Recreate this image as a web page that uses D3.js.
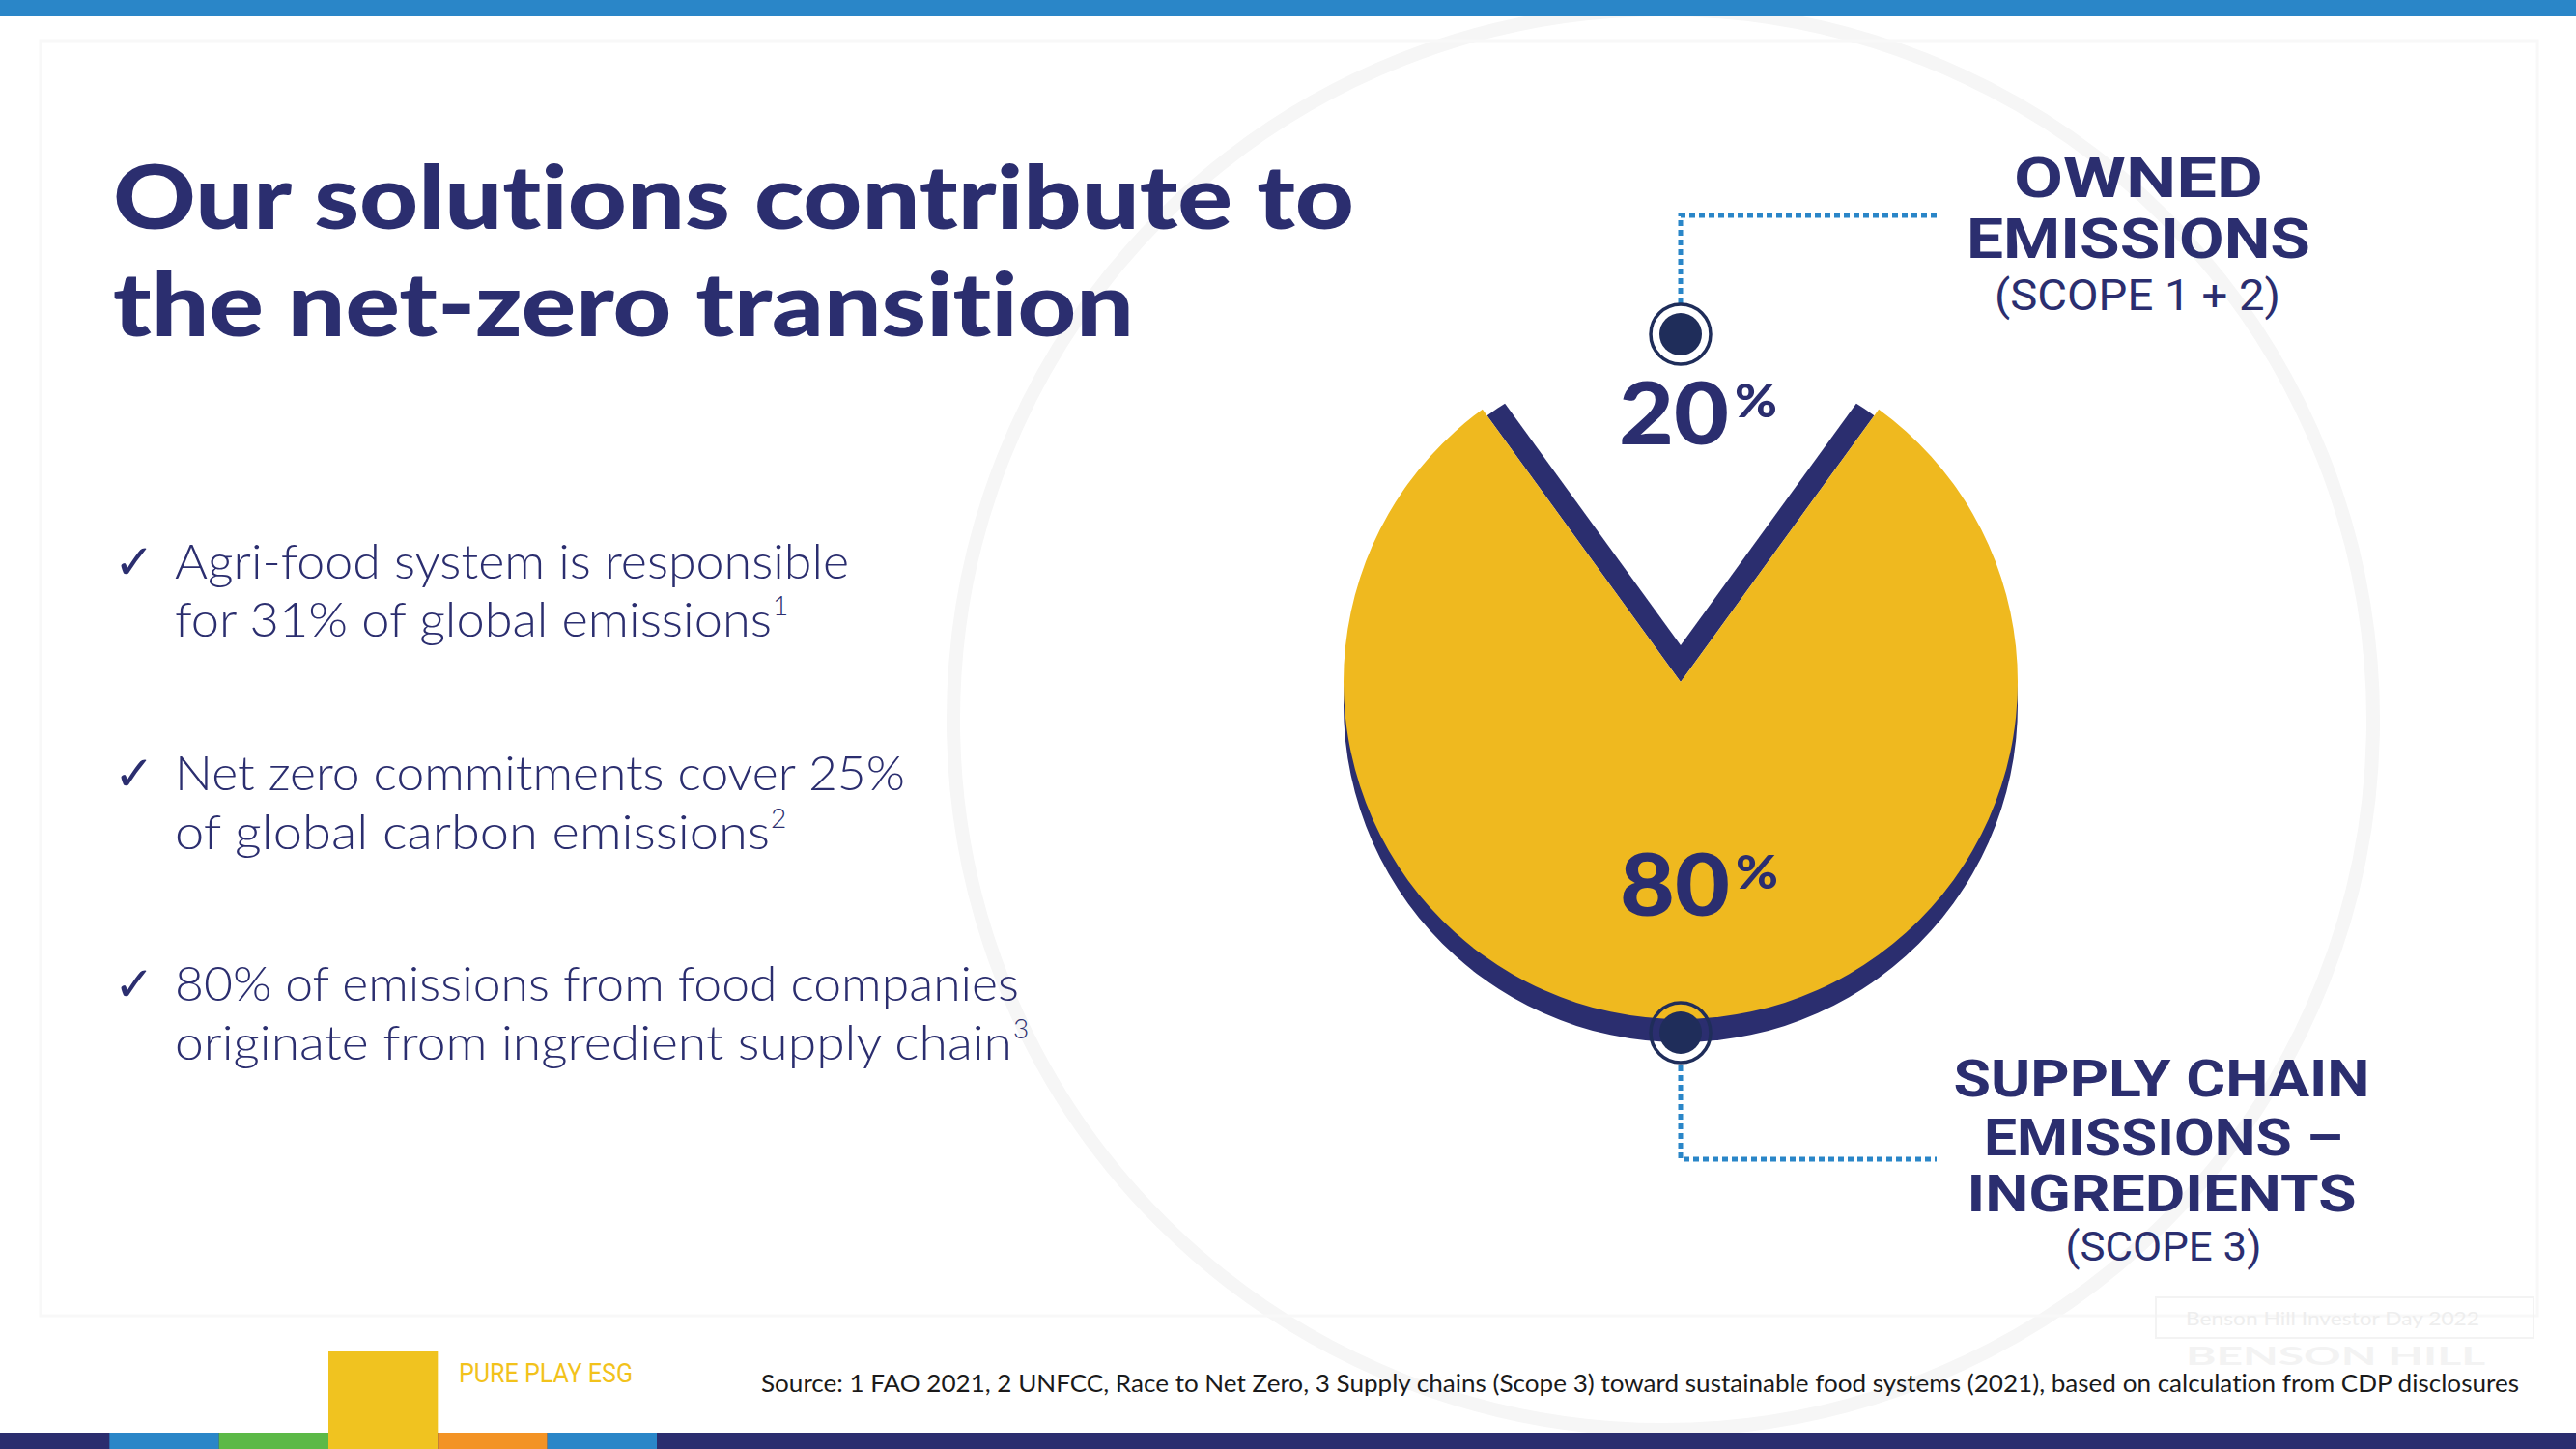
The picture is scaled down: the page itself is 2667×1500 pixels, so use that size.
<!DOCTYPE html>
<html>
<head>
<meta charset="utf-8">
<script src="https://cdn.jsdelivr.net/npm/d3@7"></script>
<style>
  html, body { margin: 0; padding: 0; background: #ffffff; }
  svg { display: block; }
  text { font-variant-ligatures: none; }
</style>
</head>
<body>
<div id="chart"></div>
<script>
// ---------------- DATA ----------------
const segmentNames = ["Owned emissions (Scope 1 + 2)", "Supply chain emissions – ingredients (Scope 3)"];
const segmentShares = [20, 80];
const segmentLabels = ["20", "80"];

const titleLines = ["Our solutions contribute to", "the net-zero transition"];

const bulletLines = [
  ["Agri-food system is responsible", "for 31% of global emissions", "1"],
  ["Net zero commitments cover 25%", "of global carbon emissions", "2"],
  ["80% of emissions from food companies", "originate from ingredient supply chain", "3"]
];

const ownedLabelLines = ["OWNED", "EMISSIONS"];
const ownedSubLabel = "(SCOPE 1 + 2)";
const supplyLabelLines = ["SUPPLY CHAIN", "EMISSIONS –", "INGREDIENTS"];
const supplySubLabel = "(SCOPE 3)";

const sourceText = "Source: 1 FAO 2021, 2 UNFCC, Race to Net Zero, 3 Supply chains (Scope 3) toward sustainable food systems (2021), based on calculation from CDP disclosures";
const tagText = "PURE PLAY ESG";
const watermarkLines = ["Benson Hill Investor Day 2022", "BENSON HILL"];

const footerColors = ["#2b2d6e", "#2a86c8", "#5cb947", "#f0c320", "#f39325", "#2a86c8"];

// ---------------- STYLE ----------------
const W = 2667, H = 1500;
const NAVY = "#2b2e6f";
const DARKDOT = "#1f2d5a";
const YELLOW = "#efb91f";
const BLUE = "#2a86c8";
const SANS = "Lato, 'Open Sans', 'Noto Sans', sans-serif";
const NARROW = "'Liberation Sans Narrow', 'Roboto', 'Lato', sans-serif";

const svg = d3.select("#chart").append("svg")
  .attr("width", W).attr("height", H)
  .attr("viewBox", `0 0 ${W} ${H}`);

svg.append("rect").attr("width", W).attr("height", H).attr("fill", "#ffffff");

// faint decorative background
const deco = svg.append("g").attr("fill", "none");
deco.append("circle").attr("cx", 1722).attr("cy", 745).attr("r", 735)
  .attr("stroke", "#f6f6f6").attr("stroke-width", 14);
deco.append("rect").attr("x", 42).attr("y", 42).attr("width", 2585).attr("height", 1320)
  .attr("stroke", "#f8f8f8").attr("stroke-width", 3);

// top bar
svg.append("rect").attr("x", 0).attr("y", 0).attr("width", W).attr("height", 17).attr("fill", BLUE);

// helper
function addText(g, o) {
  const t = g.append("text")
    .attr("x", o.x).attr("y", o.y)
    .attr("font-family", o.family || SANS)
    .attr("font-size", o.size)
    .attr("font-weight", o.weight || 400)
    .attr("fill", o.fill || NAVY)
    .attr("text-anchor", o.anchor || "start")
    .text(o.text);
  if (o.width) t.attr("textLength", o.width).attr("lengthAdjust", o.adjust || "spacingAndGlyphs");
  return t;
}

// ---------------- TITLE ----------------
const titleG = svg.append("g");
const titleY = [237, 348];
const titleW = [1285, 1057];
titleLines.forEach((s, i) => addText(titleG, {
  x: 117, y: titleY[i], text: s, size: 92, weight: 900, width: titleW[i]
}));

// ---------------- BULLETS ----------------
const bulletG = svg.append("g");
const bulletY = [[599, 659], [818, 879], [1036, 1097]];
const bulletW = [[698, 618], [756, 616], [874, 867]];
bulletLines.forEach((b, i) => {
  addText(bulletG, { x: 118, y: bulletY[i][0], text: "✓", size: 50, weight: 400,
    family: "'DejaVu Sans', sans-serif" });
  addText(bulletG, { x: 181, y: bulletY[i][0], text: b[0], size: 50, weight: 300, width: bulletW[i][0] });
  addText(bulletG, { x: 181, y: bulletY[i][1], text: b[1], size: 50, weight: 300, width: bulletW[i][1] });
  addText(bulletG, { x: 181 + bulletW[i][1] + 1, y: bulletY[i][1] - 22, text: b[2], size: 28, weight: 300 });
});

// ---------------- PIE ----------------
const cx = 1740, cy = 706, R = 349;
const shadowOffset = 24;     // navy drop shadow
const cutOffset = 38;        // inner white wedge shift -> navy V thickness

const pieData = segmentShares.map((v, i) => ({ name: segmentNames[i], value: v, label: segmentLabels[i] }));
const pie = d3.pie().sort(null).value(d => d.value)
  .startAngle(-Math.PI * segmentShares[0] / 100)
  .endAngle(2 * Math.PI - Math.PI * segmentShares[0] / 100);
const arcsP = pie(pieData);
const owned = arcsP[0], supply = arcsP[1];

const arcFull = d3.arc().innerRadius(0).outerRadius(R);
const arcV = d3.arc().innerRadius(0).outerRadius(R - 8);
const arcCut = d3.arc().innerRadius(0).outerRadius(R + 20);

const pieG = svg.append("g");
pieG.append("path").attr("d", arcFull(supply))
  .attr("transform", `translate(${cx},${cy + shadowOffset})`).attr("fill", NAVY);
pieG.append("path").attr("d", arcV(owned))
  .attr("transform", `translate(${cx},${cy})`).attr("fill", NAVY);
pieG.append("path").attr("d", arcFull(supply))
  .attr("transform", `translate(${cx},${cy})`).attr("fill", YELLOW);
pieG.append("path").attr("d", arcCut(owned))
  .attr("transform", `translate(${cx},${cy - cutOffset})`).attr("fill", "#ffffff");

function pctLabel(g, x, y, num) {
  addText(g, { x: x, y: y, text: num, size: 90, weight: 900, width: 114 });
  addText(g, { x: x + 120, y: y - 28, text: "%", size: 48, weight: 900, width: 44 });
}
pctLabel(pieG, 1676, 460, owned.data.label);
pctLabel(pieG, 1677, 948, supply.data.label);

// ---------------- CALLOUTS ----------------
const callG = svg.append("g");
const topMarkY = cy - R - 11;
const botMarkY = cy + R + shadowOffset / 2 + 2;
const lineEndX = 2005;

callG.append("path")
  .attr("d", `M${cx},${topMarkY - 32} V223 H${lineEndX}`)
  .attr("fill", "none").attr("stroke", BLUE).attr("stroke-width", 5)
  .attr("stroke-dasharray", "6,4");
callG.append("path")
  .attr("d", `M${cx},${botMarkY + 34} V1200 H${lineEndX}`)
  .attr("fill", "none").attr("stroke", BLUE).attr("stroke-width", 5)
  .attr("stroke-dasharray", "6,4");

[topMarkY, botMarkY].forEach((my, i) => {
  callG.append("circle").attr("cx", cx).attr("cy", my).attr("r", 31)
    .attr("fill", i === 0 ? "#ffffff" : "none").attr("stroke", DARKDOT).attr("stroke-width", 3.5);
  callG.append("circle").attr("cx", cx).attr("cy", my).attr("r", 22).attr("fill", DARKDOT);
});

const ownedY = [204, 267];
const ownedW = [258, 356];
ownedLabelLines.forEach((s, i) => addText(callG, {
  x: 2214, y: ownedY[i], text: s, size: 58, weight: 700, family: NARROW, anchor: "middle", width: ownedW[i]
}));
addText(callG, { x: 2213, y: 321, text: ownedSubLabel, size: 44, weight: 400, family: NARROW,
  anchor: "middle", width: 296 });

const supplyY = [1135, 1196, 1254];
const supplyW = [431, 372, 403];
const supplyX = [2238, 2240, 2238];
supplyLabelLines.forEach((s, i) => addText(callG, {
  x: supplyX[i], y: supplyY[i], text: s, size: 54, weight: 700, family: NARROW, anchor: "middle", width: supplyW[i]
}));
addText(callG, { x: 2240, y: 1305, text: supplySubLabel, size: 42, weight: 400, family: NARROW,
  anchor: "middle", width: 203 });

// ---------------- FOOTER ----------------
const footG = svg.append("g");
footG.append("rect").attr("x", 2232).attr("y", 1343).attr("width", 391).attr("height", 42)
  .attr("fill", "none").attr("stroke", "#f3f3f3").attr("stroke-width", 2);
addText(footG, { x: 2263, y: 1372, text: watermarkLines[0], size: 20, fill: "#eeeeee", width: 304 });
addText(footG, { x: 2263, y: 1413, text: watermarkLines[1], size: 26, weight: 700, fill: "#f3f3f3", width: 310 });

addText(footG, { x: 475, y: 1431, text: tagText, size: 27, weight: 400, family: NARROW,
  fill: "#f2c21b", width: 180 });
addText(footG, { x: 2608, y: 1441, text: sourceText, size: 25, weight: 400, fill: "#1a1a1a",
  anchor: "end", width: 1820 });

const segX = d3.scaleBand().domain(d3.range(footerColors.length)).range([0, 680]);
footG.append("rect").attr("x", 0).attr("y", 1483).attr("width", W).attr("height", 17).attr("fill", NAVY);
footG.selectAll("rect.seg").data(footerColors).join("rect")
  .attr("class", "seg")
  .attr("x", (d, i) => segX(i)).attr("width", segX.bandwidth())
  .attr("y", (d, i) => i === 3 ? 1399 : 1483)
  .attr("height", (d, i) => i === 3 ? 101 : 17)
  .attr("fill", d => d);
</script>
</body>
</html>
